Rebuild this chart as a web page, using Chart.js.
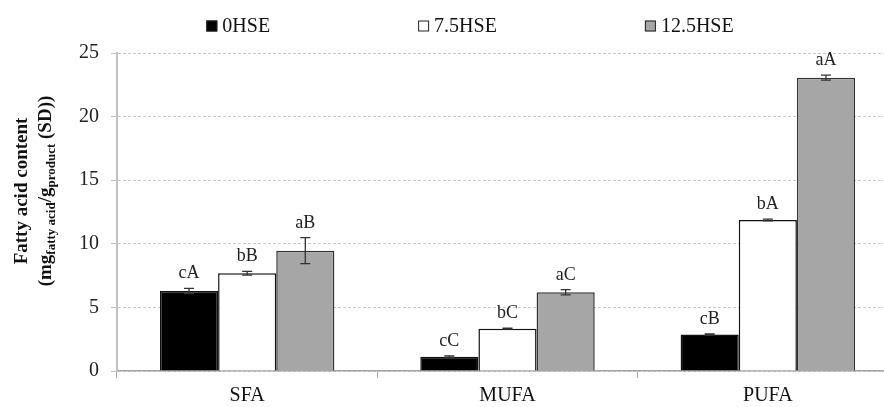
<!DOCTYPE html>
<html>
<head>
<meta charset="utf-8">
<script src="https://cdn.jsdelivr.net/npm/chart.js@4/dist/chart.umd.min.js"></script>
<style>
  html, body { margin: 0; padding: 0; background: #fff; overflow: hidden; }
  #wrap { width: 900px; height: 407px; }
</style>
</head>
<body>
<div id="wrap"><canvas id="grafico" width="900" height="407"></canvas></div>
<script>
// data
var categorias = ['SFA', 'MUFA', 'PUFA'];
var series = ['0HSE', '7.5HSE', '12.5HSE'];
var val0 = [6.29, 1.13, 2.86];
var val75 = [7.68, 3.33, 11.87];
var val125 = [9.46, 6.19, 23.06];
var sd0 = [0.2, 0.06, 0.05];
var sd75 = [0.15, 0.03, 0.07];
var sd125 = [1.02, 0.21, 0.2];
var letras0 = ['cA', 'cC', 'cB'];
var letras75 = ['bB', 'bC', 'bA'];
var letras125 = ['aB', 'aC', 'aA'];
var yTicks = [0, 5, 10, 15, 20, 25];

var cores = ['#000000', '#ffffff', '#a6a6a6'];
var fonte = '"Liberation Serif", "Times New Roman", serif';

// error bars + significance letters
var barrasErro = {
  id: 'barrasErro',
  afterDatasetsDraw: function(chart) {
    var ctx = chart.ctx;
    var y = chart.scales.y;
    chart.data.datasets.forEach(function(ds, i) {
      var meta = chart.getDatasetMeta(i);
      meta.data.forEach(function(bar, j) {
        var v = ds.data[j], e = ds.sd[j];
        var yt = y.getPixelForValue(v + e);
        var yb = y.getPixelForValue(v - e);
        ctx.save();
        ctx.strokeStyle = '#333';
        ctx.lineWidth = 1.3;
        ctx.beginPath();
        ctx.moveTo(bar.x, yt); ctx.lineTo(bar.x, yb);
        ctx.moveTo(bar.x - 5, yt); ctx.lineTo(bar.x + 5, yt);
        ctx.moveTo(bar.x - 5, yb); ctx.lineTo(bar.x + 5, yb);
        ctx.stroke();
        ctx.fillStyle = '#222';
        ctx.font = '18px ' + fonte;
        ctx.textAlign = 'center';
        ctx.textBaseline = 'alphabetic';
        ctx.fillText(ds.letras[j], bar.x, yt - 10);
        ctx.restore();
      });
    });
  }
};

// y title with subscripts, and legend
var extras = {
  id: 'extras',
  afterDraw: function(chart) {
    var ctx = chart.ctx;
    var cy = 191;
    ctx.save();
    ctx.fillStyle = '#111';
    // line 1
    ctx.save();
    ctx.translate(22, cy);
    ctx.rotate(-Math.PI / 2);
    ctx.font = 'bold 19px ' + fonte;
    ctx.textAlign = 'center';
    ctx.textBaseline = 'middle';
    ctx.fillText('Fatty acid content', 0, 0);
    ctx.restore();
    // line 2
    var partes = [['(mg', false], ['fatty acid', true], ['/g', false], ['product', true], [' (SD))', false]];
    ctx.save();
    ctx.translate(46, cy);
    ctx.rotate(-Math.PI / 2);
    ctx.textBaseline = 'middle';
    ctx.textAlign = 'left';
    var total = 0;
    partes.forEach(function(p) {
      ctx.font = (p[1] ? 'bold 13px ' : 'bold 19px ') + fonte;
      total += ctx.measureText(p[0]).width;
    });
    var x = -total / 2;
    partes.forEach(function(p) {
      ctx.font = (p[1] ? 'bold 13px ' : 'bold 19px ') + fonte;
      ctx.fillText(p[0], x, p[1] ? 6 : 0);
      x += ctx.measureText(p[0]).width;
    });
    ctx.restore();

    // legend
    ctx.font = '20px ' + fonte;
    ctx.textBaseline = 'middle';
    ctx.textAlign = 'left';
    var gap = 148, box = 11, tgap = 5;
    var larg = series.map(function(s) { return box + tgap + ctx.measureText(s).width; });
    var soma = larg.reduce(function(a, b) { return a + b; }, 0) + gap * (series.length - 1);
    var lx = 470 - soma / 2;
    var ly = 26;
    series.forEach(function(s, i) {
      ctx.fillStyle = cores[i];
      ctx.fillRect(lx, ly - 5.5, box, box);
      ctx.strokeStyle = '#222';
      ctx.lineWidth = 1;
      ctx.strokeRect(lx + 0.5, ly - 5, box - 1, box - 1);
      ctx.fillStyle = '#111';
      ctx.fillText(s, lx + box + tgap, ly + 1);
      lx += larg[i] + gap;
    });
    ctx.restore();
  }
};

var ctx = document.getElementById('grafico').getContext('2d');
var myChart = new Chart(ctx, {
  type: 'bar',
  data: {
    labels: categorias,
    datasets: [
      { label: series[0], data: val0, sd: sd0, letras: letras0, backgroundColor: cores[0], borderColor: '#111', borderWidth: 1.5 },
      { label: series[1], data: val75, sd: sd75, letras: letras75, backgroundColor: cores[1], borderColor: '#111', borderWidth: 1.5 },
      { label: series[2], data: val125, sd: sd125, letras: letras125, backgroundColor: cores[2], borderColor: '#333', borderWidth: 1.5 }
    ]
  },
  options: {
    responsive: false,
    animation: false,
    devicePixelRatio: 1,
    layout: { padding: { top: 53, left: 0, right: 2, bottom: 0 } },
    datasets: { bar: { categoryPercentage: 0.67, barPercentage: 1.0 } },
    plugins: {
      legend: { display: false },
      tooltip: { enabled: false }
    },
    scales: {
      x: {
        afterFit: function(s) { s.height = 36; },
        grid: { offset: true, drawOnChartArea: true, display: true, drawTicks: true, tickLength: 7, color: 'rgba(0,0,0,0)', tickColor: '#a6a6a6' },
        border: { color: '#a6a6a6', width: 1.5 },
        ticks: { color: '#111', padding: 6, font: { family: fonte, size: 20 } }
      },
      y: {
        min: 0,
        max: 25,
        afterFit: function(s) { s.width = 117; },
        afterBuildTicks: function(s) { s.ticks = yTicks.map(function(v) { return { value: v }; }); },
        grid: { color: '#c8c8c8', tickBorderDash: [], tickLength: 6, tickColor: '#c0c0c0' },
        border: { color: '#c0c0c0', width: 2, dash: [3, 2] },
        ticks: { color: '#222', padding: 12, font: { family: fonte, size: 20 } }
      }
    }
  },
  plugins: [barrasErro, extras]
});
</script>
</body>
</html>
